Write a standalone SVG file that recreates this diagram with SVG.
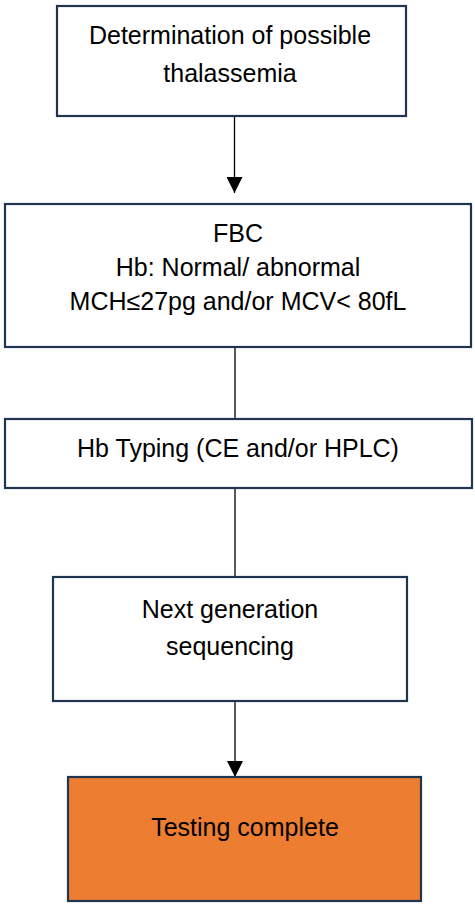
<svg xmlns="http://www.w3.org/2000/svg" width="475" height="907" viewBox="0 0 475 907">
<style>
.box{fill:#fff;stroke:#1f3550;stroke-width:2.2}
.end{fill:#ed7d31;stroke:#1f3550;stroke-width:2.2}
.t{font-family:"Liberation Sans",Arial,sans-serif;font-size:25px;fill:#000;text-anchor:middle}
.c{stroke:#000;stroke-width:1.3;fill:none}
</style>
<defs>
<marker id="ah" markerWidth="16" markerHeight="16" refX="16" refY="8" orient="auto" markerUnits="userSpaceOnUse" viewBox="0 0 16 16">
<path d="M0,0 L16,8 L0,16 Z" fill="#000"/>
</marker>
</defs>
<rect width="475" height="907" fill="#fff"/>
<g id="connectors">
<line class="c" x1="234.5" y1="116" x2="234.5" y2="193" marker-end="url(#ah)"/>
<line class="c" x1="235" y1="347" x2="235" y2="419"/>
<line class="c" x1="235" y1="488" x2="235" y2="577"/>
<line class="c" x1="235" y1="701" x2="235" y2="777" marker-end="url(#ah)"/>
</g>
<g id="n1">
<rect class="box" x="57" y="6" width="349" height="110"/>
<text class="t" x="230" y="44">Determination of possible</text>
<text class="t" x="230" y="82">thalassemia</text>
</g>
<g id="n2">
<rect class="box" x="5" y="204" width="466" height="143"/>
<text class="t" x="238" y="242">FBC</text>
<text class="t" x="238" y="276">Hb: Normal/ abnormal</text>
<text class="t" x="238" y="310">MCH≤27pg and/or MCV&lt; 80fL</text>
</g>
<g id="n3">
<rect class="box" x="5" y="419" width="467" height="69"/>
<text class="t" x="238" y="457">Hb Typing (CE and/or HPLC)</text>
</g>
<g id="n4">
<rect class="box" x="53" y="577" width="354" height="124"/>
<text class="t" x="230" y="618">Next generation</text>
<text class="t" x="230" y="655">sequencing</text>
</g>
<g id="n5">
<rect class="end" x="68" y="777" width="353" height="124"/>
<text class="t" x="245" y="836">Testing complete</text>
</g>
</svg>
